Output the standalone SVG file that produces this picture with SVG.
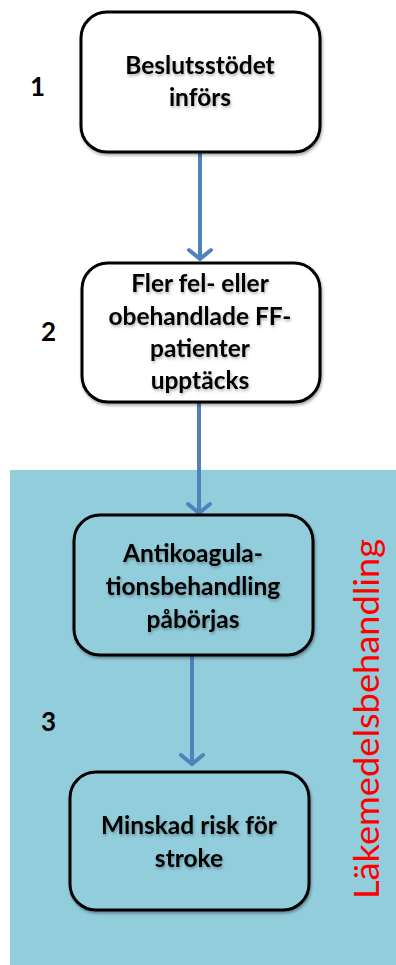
<svg xmlns="http://www.w3.org/2000/svg" width="396" height="965" viewBox="0 0 396 965">
<style>
.box{fill:#fff;stroke:#000;stroke-width:3}
.box2{fill:#92CDDC;stroke:#000;stroke-width:3}
.t{font-family:Lato,"Open Sans",sans-serif;font-weight:bold;font-size:24.5px;fill:#000;text-anchor:middle}
.n{font-family:Lato,"Open Sans",sans-serif;font-weight:bold;font-size:26px;fill:#000}
.c{stroke:#4F81BD;stroke-width:4;fill:none}
</style>
<defs>
<filter id="sh" x="-10%" y="-10%" width="130%" height="130%">
<feGaussianBlur in="SourceAlpha" stdDeviation="1.5"/>
<feOffset dx="1" dy="2" result="b"/>
<feComponentTransfer><feFuncA type="linear" slope="0.35"/></feComponentTransfer>
<feMerge><feMergeNode/><feMergeNode in="SourceGraphic"/></feMerge>
</filter>
<filter id="ts" x="-10%" y="-20%" width="130%" height="160%">
<feGaussianBlur in="SourceAlpha" stdDeviation="1.5"/>
<feOffset dx="1" dy="2"/>
<feComponentTransfer><feFuncA type="linear" slope="0.3"/></feComponentTransfer>
<feMerge><feMergeNode/><feMergeNode in="SourceGraphic"/></feMerge>
</filter>
<marker id="ah" markerWidth="8" markerHeight="8" refX="6" refY="4" orient="auto" markerUnits="userSpaceOnUse" viewBox="0 0 8 8" overflow="visible">
<path d="M-3,-7 L6,4 L-3,15" fill="none" stroke="#4F81BD" stroke-width="4" stroke-linecap="round" stroke-linejoin="round"/>
</marker>
</defs>
<rect x="10" y="470" width="386" height="495" fill="#92CDDC"/>
<g id="connectors">
<line class="c" x1="200" y1="152" x2="200" y2="259" marker-end="url(#ah)"/>
<line class="c" x1="199" y1="402" x2="199" y2="513" marker-end="url(#ah)"/>
<line class="c" x1="192" y1="655" x2="192" y2="764" marker-end="url(#ah)"/>
</g>
<g id="node1">
<rect class="box" x="81" y="12" width="239" height="140" rx="26" filter="url(#sh)"/>
<g filter="url(#ts)">
<text class="t" x="200" y="74">Beslutsstödet</text>
<text class="t" x="200" y="106">införs</text>
</g>
</g>
<g id="node2">
<rect class="box" x="82" y="263" width="238" height="139" rx="26" filter="url(#sh)"/>
<g filter="url(#ts)">
<text class="t" x="200" y="292">Fler fel- eller</text>
<text class="t" x="200" y="325">obehandlade FF-</text>
<text class="t" x="200" y="357">patienter</text>
<text class="t" x="200" y="389">upptäcks</text>
</g>
</g>
<g id="node3">
<rect class="box2" x="74" y="515" width="239" height="140" rx="26" filter="url(#sh)"/>
<g filter="url(#ts)">
<text class="t" x="193" y="562">Antikoagula-</text>
<text class="t" x="193" y="595">tionsbehandling</text>
<text class="t" x="193" y="628">påbörjas</text>
</g>
</g>
<g id="node4">
<rect class="box2" x="70" y="772" width="239" height="138" rx="26" filter="url(#sh)"/>
<g filter="url(#ts)">
<text class="t" x="189" y="834">Minskad risk för</text>
<text class="t" x="189" y="867">stroke</text>
</g>
</g>
<text class="n" x="30" y="96">1</text>
<text class="n" x="41" y="341">2</text>
<text class="n" x="41" y="731">3</text>
<text transform="translate(379,899) rotate(-90)" font-family="Lato,'Open Sans',sans-serif" font-size="35" fill="#FF0000" textLength="360" lengthAdjust="spacingAndGlyphs">Läkemedelsbehandling</text>
</svg>
